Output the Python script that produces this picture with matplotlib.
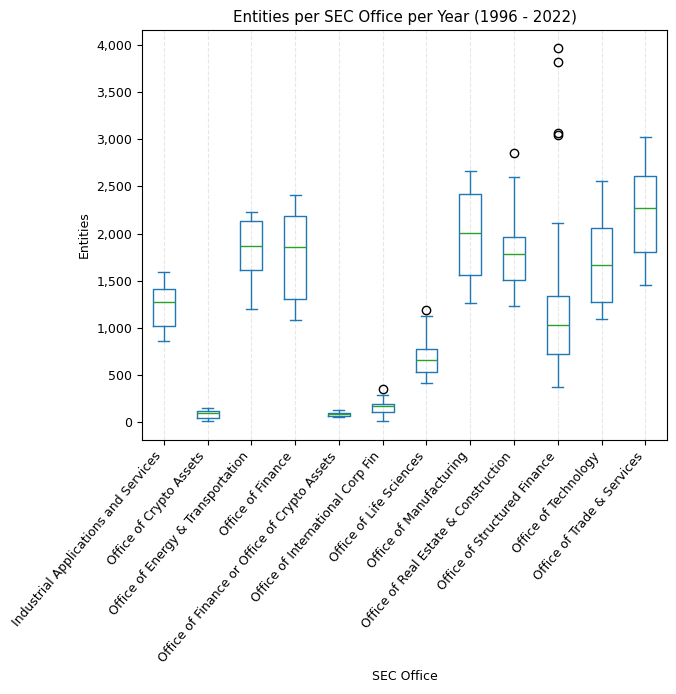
import matplotlib
matplotlib.use('Agg')
import matplotlib.pyplot as plt
import matplotlib.ticker as mticker

# Offices (x categories)
offices = ['Industrial Applications and Services', 'Office of Crypto Assets',
           'Office of Energy & Transportation', 'Office of Finance',
           'Office of Finance or Office of Crypto Assets', 'Office of International Corp Fin',
           'Office of Life Sciences', 'Office of Manufacturing',
           'Office of Real Estate & Construction', 'Office of Structured Finance',
           'Office of Technology', 'Office of Trade & Services']

# Box stats
whislo = [864, 7, 1203, 1087, 53, 7, 413, 1266, 1227, 367, 1097, 1457]
q1 = [1016, 39, 1608, 1301, 60, 103, 536, 1562, 1502, 719, 1277, 1799]
med = [1277, 92, 1869, 1859, 81, 166, 663, 2010, 1785, 1034, 1668, 2272]
q3 = [1415, 113, 2134, 2187, 92, 187, 776, 2420, 1965, 1340, 2060, 2610]
whishi = [1594, 145, 2229, 2412, 124, 282, 1121, 2663, 2600, 2116, 2557, 3023]
fliers = [[], [], [], [], [], [346], [1185], [], [2853],
          [3964, 3816, 3065, 3047], [], []]

stats = []
for i in range(len(offices)):
    stats.append({'label': offices[i], 'whislo': whislo[i], 'q1': q1[i], 'med': med[i],
                  'q3': q3[i], 'whishi': whishi[i], 'fliers': fliers[i]})

fig, ax = plt.subplots(figsize=(6.76, 6.94), dpi=100)
c = '#1f77b4'
ax.bxp(stats, showfliers=True,
       boxprops=dict(color=c), whiskerprops=dict(color=c), capprops=dict(color=c),
       medianprops=dict(color='#2ca02c'),
       flierprops=dict(marker='o', markeredgecolor='black', markerfacecolor='none'))

ax.xaxis.grid(True, linestyle='--', color='#b0b0b0', alpha=0.3, linewidth=0.8)
ax.set_axisbelow(True)
ax.yaxis.set_major_formatter(mticker.StrMethodFormatter('{x:,.0f}'))
ax.tick_params(labelsize=9)
plt.setp(ax.get_xticklabels(), rotation=50, ha='right')
ax.set_title('Entities per SEC Office per Year (1996 - 2022)', fontsize=10.8)
ax.set_xlabel('SEC Office', fontsize=9)
ax.set_ylabel('Entities', fontsize=9)

plt.subplots_adjust(left=0.21, right=0.987, top=0.957, bottom=0.366)
plt.savefig('out.png')
